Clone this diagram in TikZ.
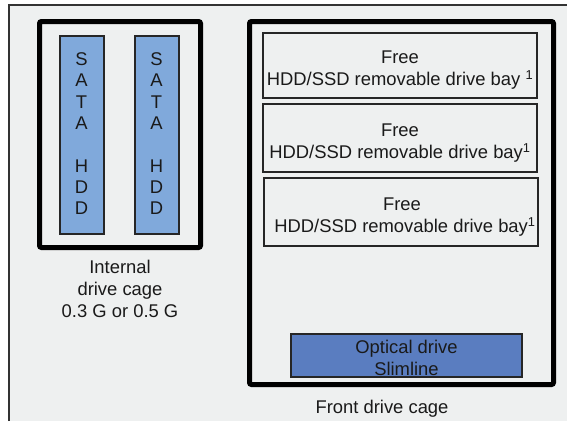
\documentclass[tikz,border=0pt]{standalone}
\usepackage{fontspec}
\setmainfont{Liberation Sans}
\definecolor{bg}{HTML}{EEF0F0}
\definecolor{hddblue}{HTML}{80A9DB}
\definecolor{optblue}{HTML}{5A7DC0}
\definecolor{txt}{HTML}{1A1A1A}
\tikzset{
  cage/.style={draw=black, line width=5pt, rounded corners=2pt, inner sep=0pt},
  hdd/.style={draw=black!85, line width=2pt, fill=hddblue, inner sep=0pt, minimum width=44pt, minimum height=198pt},
  hddtxt/.style={align=center, text=txt, inner sep=0pt, font=\fontsize{18.4}{21.3}\selectfont},
  bay/.style={draw=black!85, line width=2pt, inner sep=0pt, minimum width=274pt},
  opt/.style={draw=black!85, line width=2pt, fill=optblue, inner sep=0pt, minimum width=231pt, minimum height=43pt},
  lbl/.style={align=center, text=txt, font=\fontsize{18.4}{22}\selectfont, inner sep=0pt}
}
\begin{document}
\begin{tikzpicture}[x=1pt,y=-1pt]
\useasboundingbox (0,0) rectangle (567,421);
\fill[white] (0,0) rectangle (567,421);
\fill[bg] (9,5) rectangle (567,421);
\draw[line width=2pt, black!80] (9,421) -- (9,5) -- (567,5);
% internal cage
\node[cage, minimum width=161pt, minimum height=226pt] (ic) at (120,134.5) {};
\node[hdd] (h1) at (81.5,134.5) {};
\node[hdd] (h2) at (156.5,134.5) {};
\node[hddtxt] (h1t) at (81.5,133.8) {S\\A\\T\\A\\[21.3pt]H\\D\\D};
\node[hddtxt] (h2t) at (156.5,133.8) {S\\A\\T\\A\\[21.3pt]H\\D\\D};
\node[lbl, anchor=north] (icl) at (120,260) {Internal\\drive cage\\0.3 G or 0.5 G};
% front cage
\node[cage, minimum width=304pt, minimum height=363pt] (fc) at (401.5,203) {};
\node[bay, minimum height=65pt] (b1) at (400,65.5) {};
\node[bay, minimum height=68pt] (b2) at (400,138) {};
\node[bay, minimum height=68pt] (b3) at (400.5,212) {};
\node[lbl] (b1t) at (400,70) {Free\\HDD/SSD removable drive bay \textsuperscript{1}};
\node[lbl] (b2t) at (400,143) {Free\\HDD/SSD removable drive bay\textsuperscript{1}};
\node[lbl] (b3t) at (402,217) {Free\\\hspace*{6pt}HDD/SSD removable drive bay\textsuperscript{1}};
\node[opt] (od) at (406.5,355.5) {};
\node[lbl] (odt) at (406.5,358) {Optical drive\\Slimline};
\node[lbl, anchor=north] (fcl) at (382,400) {Front drive cage};
\end{tikzpicture}
\end{document}
